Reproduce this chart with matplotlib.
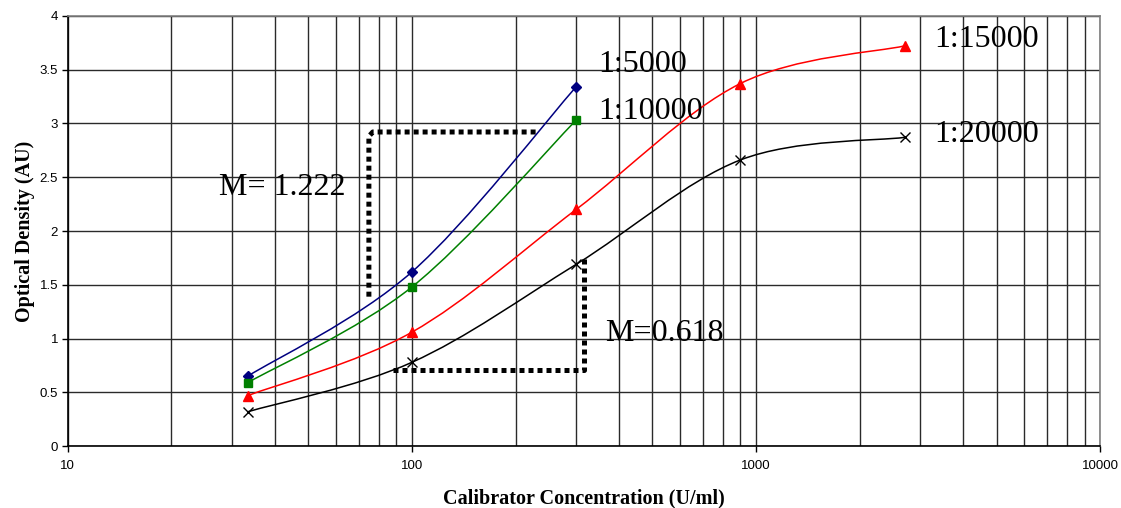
import numpy as np
import matplotlib.pyplot as plt
from matplotlib.path import Path
from matplotlib.patches import PathPatch
from matplotlib.ticker import FixedLocator, FixedFormatter, NullFormatter

# --- data ---
conc = [33.3, 100, 300, 900, 2700]
od_5000 = [0.65, 1.62, 3.34]
od_10000 = [0.59, 1.48, 3.03]
od_15000 = [0.47, 1.06, 2.20, 3.37, 3.72]
od_20000 = [0.32, 0.78, 1.69, 2.66, 2.87]
series_names = ['1:5000', '1:10000', '1:15000', '1:20000']

slope_labels = ['M= 1.222', 'M=0.618']

serif = ['Liberation Serif', 'DejaVu Serif']
sans = ['Liberation Sans', 'DejaVu Sans']


def smooth_path(xs, ys):
    # Catmull-Rom style bezier in log-x space (like Excel smoothed line)
    lx = np.log10(xs)
    ys = np.asarray(ys, float)
    n = len(lx)
    verts = [(xs[0], ys[0])]
    codes = [Path.MOVETO]
    for i in range(n - 1):
        i0 = max(i - 1, 0)
        i3 = min(i + 2, n - 1)
        c1x = lx[i] + (lx[i + 1] - lx[i0]) / 6
        c1y = ys[i] + (ys[i + 1] - ys[i0]) / 6
        c2x = lx[i + 1] - (lx[i3] - lx[i]) / 6
        c2y = ys[i + 1] - (ys[i3] - ys[i]) / 6
        verts += [(10 ** c1x, c1y), (10 ** c2x, c2y), (xs[i + 1], ys[i + 1])]
        codes += [Path.CURVE4] * 3
    return Path(verts, codes)


fig = plt.figure(figsize=(11.21, 5.08), dpi=100)
ax = fig.add_axes([0.0604, 0.1215, 0.9211, 0.8475])
ax.set_xscale('log')
ax.set_xlim(10, 10000)
ax.set_ylim(0, 4)

# grid
ax.xaxis.set_major_locator(FixedLocator([10, 100, 1000, 10000]))
ax.xaxis.set_major_formatter(FixedFormatter(['10', '100', '1000', '10000']))
minors = [m * d for d in (10, 100, 1000) for m in range(2, 10)]
ax.xaxis.set_minor_locator(FixedLocator(minors))
ax.xaxis.set_minor_formatter(NullFormatter())
ax.set_yticks(np.arange(0, 4.01, 0.5))
ax.set_yticklabels(['0', '0.5', '1', '1.5', '2', '2.5', '3', '3.5', '4'])
ax.grid(True, which='both', axis='x', color='#2a2a2a', lw=1.0)
ax.grid(True, which='major', axis='y', color='#2a2a2a', lw=1.0)
ax.set_axisbelow(True)
ax.tick_params(which='minor', length=0)
ax.tick_params(which='major', length=4, width=1, direction='out', labelsize=9.5)
ax.tick_params(axis='x', pad=6)
ax.tick_params(axis='y', pad=3)
for lab in ax.get_xticklabels() + ax.get_yticklabels():
    lab.set_family(sans)
for s in ['top', 'right']:
    ax.spines[s].set_color('#808080')
    ax.spines[s].set_linewidth(1.2)
for s in ['left', 'bottom']:
    ax.spines[s].set_linewidth(1.2)

# series
styles = [
    (od_5000, '#000080', 'D', 5),
    (od_10000, '#008000', 's', 6),
    (od_15000, '#FF0000', '^', 7),
    (od_20000, '#000000', 'x', 7),
]
for (vals, col, mk, ms), name in zip(styles, series_names):
    xs = conc[:len(vals)]
    ax.add_patch(PathPatch(smooth_path(xs, vals), fill=False, edgecolor=col, lw=1.1, zorder=3))
    ax.plot(xs, vals, ls='none', marker=mk, ms=ms, color=col, mec=col, mew=1.0, zorder=4, label=name)

# dotted slope brackets
dot = dict(color='black', lw=3.6, ls=(0, (1, 0.8)), solid_capstyle='butt', zorder=5)
ax.plot([75, 75, 77, 230], [1.39, 2.88, 2.92, 2.92], **dot)
ax.plot([88, 317, 317], [0.71, 0.71, 1.76], **dot)

# text
ax.text(42, 2.40, slope_labels[0], fontsize=23, family=serif, ha='center', va='center')
ax.text(364, 1.05, slope_labels[1], fontsize=23, family=serif, ha='left', va='center')
ax.text(349, 3.55, series_names[0], fontsize=23, family=serif, ha='left', va='center')
ax.text(349, 3.11, series_names[1], fontsize=23, family=serif, ha='left', va='center')
ax.text(3290, 3.78, series_names[2], fontsize=23, family=serif, ha='left', va='center')
ax.text(3290, 2.9, series_names[3], fontsize=23, family=serif, ha='left', va='center')

ax.set_xlabel('Calibrator Concentration (U/ml)', fontsize=14.5, fontweight='bold', family=serif, labelpad=12)
ax.set_ylabel('Optical Density (AU)', fontsize=14.5, fontweight='bold', family=serif, labelpad=3)

fig.savefig('out.png', dpi=100)
